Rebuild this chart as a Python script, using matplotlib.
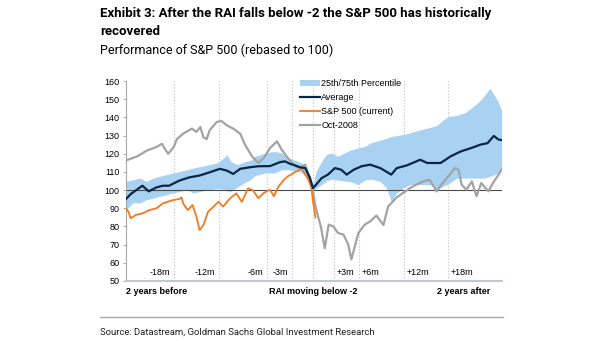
import numpy as np
import matplotlib
matplotlib.use("Agg")
import matplotlib.pyplot as plt
from matplotlib.patches import Patch
from matplotlib.lines import Line2D

# months relative to the RAI moving below -2
band_x = [-23.9, -23.0, -22.1, -21.3, -20.4, -19.6, -18.7, -17.9, -17.0, -16.1,
          -15.3, -14.4, -13.6, -12.3, -11.4, -11.0, -10.5, -9.7, -8.8, -7.9,
          -7.4, -6.1, -4.9, -4.0, -3.2, -1.9, -1.0, -0.4, 0.0, 0.4,
          1.1, 1.7, 2.3, 3.2, 4.0, 4.9, 5.7, 6.6, 7.4, 8.6,
          9.4, 10.0, 10.7, 11.5, 12.4, 13.2, 14.1, 15.0, 15.8, 16.6,
          17.3, 18.4, 19.4, 20.2, 20.9, 21.4, 21.9, 22.6, 23.2, 23.6, 24.1]
band_hi = [104.8, 105.7, 106.6, 104.8, 106.6, 107.6, 108.5, 109.4, 110.3, 111.2,
           112.1, 113.0, 113.6, 114.9, 117.6, 119.5, 115.8, 114.0, 115.5, 116.5,
           118.6, 120.4, 121.3, 120.4, 117.6, 115.8, 114.0, 108.5, 103.0, 110.3,
           115.8, 119.5, 120.4, 118.6, 120.4, 122.2, 123.1, 124.0, 126.0, 127.5,
           128.5, 129.5, 130.0, 130.5, 131.5, 132.5, 133.5, 134.5, 135.5, 138.5,
           140.5, 141.0, 142.5, 145.0, 147.5, 149.5, 152.0, 156.0, 152.0, 149.0, 144.0]
band_lo = [89.2, 93.0, 92.9, 94.7, 95.6, 96.6, 97.5, 98.4, 99.3, 100.2,
           98.4, 99.3, 100.0, 100.8, 100.5, 99.5, 99.3, 101.5, 104.0, 106.0,
           108.0, 109.4, 109.4, 111.2, 111.2, 110.3, 108.5, 103.0, 99.3, 101.1,
           103.0, 105.0, 106.0, 105.5, 105.0, 104.5, 103.0, 105.5, 106.0, 104.8,
           101.1, 93.8, 98.4, 101.1, 103.0, 103.0, 103.0, 103.0, 100.2, 102.0,
           103.5, 106.6, 106.6, 106.6, 106.6, 106.6, 106.6, 107.5, 108.5, 109.4, 112.0]

avg_x = [-23.9, -23.3, -22.4, -21.8, -21.0, -20.0, -19.2, -18.4, -17.1, -15.8,
         -14.5, -13.2, -11.9, -11.0, -10.2, -9.3, -8.0, -7.0, -5.5, -4.2,
         -3.6, -2.9, -2.3, -1.7, -1.0, -0.4, 0.0, 0.4, 1.1, 1.9,
         2.8, 3.6, 4.3, 5.2, 6.2, 7.3, 8.6, 10.0, 10.7, 12.0,
         13.7, 14.6, 16.3, 17.6, 18.9, 20.2, 21.4, 22.3, 23.1, 23.7, 24.1]
avg_v = [95.1, 97.8, 100.6, 102.4, 99.3, 101.5, 102.4, 102.4, 105.2, 107.0,
         108.0, 109.8, 111.7, 110.7, 108.9, 111.7, 112.6, 113.1, 113.2, 115.4,
         115.8, 114.4, 113.6, 112.6, 112.1, 106.6, 101.1, 103.0, 106.6, 108.5,
         112.1, 111.2, 108.5, 111.2, 113.1, 114.0, 112.1, 108.5, 112.1, 113.6,
         116.7, 114.9, 114.9, 118.6, 121.3, 123.1, 125.0, 125.8, 129.8, 127.8, 127.5]

sp_x = [-23.9, -23.6, -23.3, -22.6, -21.8, -20.9, -20.0, -19.2, -17.9, -17.1,
        -16.8, -16.6, -16.0, -15.4, -14.9, -14.5, -14.0, -13.4, -12.7, -12.1,
        -11.5, -10.6, -9.8, -9.1, -8.3, -7.7, -7.0, -6.3, -5.5, -5.0,
        -4.4, -3.7, -3.2, -2.5, -1.9, -1.5, -1.0, -0.6, -0.2, 0.0, 0.3]
sp_v = [90.0, 88.2, 84.5, 86.4, 87.2, 89.0, 90.0, 92.7, 94.5, 95.1,
        96.0, 92.7, 89.0, 91.8, 85.4, 78.0, 80.9, 88.2, 90.9, 93.6,
        90.9, 95.5, 98.2, 93.5, 101.0, 100.0, 95.6, 98.4, 100.2, 96.6,
        102.1, 105.7, 107.6, 109.4, 110.7, 112.1, 108.5, 105.7, 101.1, 93.8, 85.0]

oct_x = [-23.9, -22.5, -21.2, -20.0, -19.3, -18.9, -18.5, -17.8, -17.4, -16.6,
         -15.5, -14.9, -14.4, -14.0, -13.6, -13.2, -12.3, -11.7, -11.0, -10.2,
         -9.3, -8.7, -7.8, -7.0, -6.3, -5.5, -4.6, -4.0, -3.2, -2.3,
         -1.7, -1.0, -0.4, 0.0, 0.26, 0.7, 1.0, 1.5, 2.0, 2.6,
         3.2, 3.9, 4.5, 4.9, 5.4, 5.8, 6.6, 7.3, 8.1, 9.0,
         9.6, 10.7, 11.5, 12.4, 13.2, 14.1, 14.9, 15.8, 16.4, 17.3,
         18.1, 18.6, 19.0, 19.6, 20.3, 20.9, 21.5, 22.4, 23.0, 23.7, 24.1]
oct_v = [116.3, 118.5, 121.8, 123.7, 125.5, 122.4, 120.0, 123.7, 128.0, 131.0,
         133.8, 132.0, 134.7, 129.0, 128.0, 133.0, 137.5, 138.0, 135.6, 133.8,
         131.0, 125.0, 118.6, 114.9, 117.6, 123.1, 126.8, 122.2, 117.6, 113.1,
         112.2, 114.0, 106.6, 99.3, 92.0, 84.6, 80.0, 68.0, 81.0, 80.0,
         76.4, 75.5, 70.0, 61.9, 70.0, 76.4, 81.0, 82.8, 86.0, 80.8,
         91.0, 96.0, 98.4, 101.1, 103.0, 104.8, 105.7, 99.3, 103.0, 107.6,
         112.1, 111.2, 103.0, 100.2, 104.8, 96.6, 103.9, 99.3, 103.9, 108.5, 111.3]

# dotted guides and their labels
guide_pos = [-17.75, -12.0, -5.85, -2.7, 0.0, 2.7, 5.9, 11.6, 17.2]
guide_lab = ['-18m', '-12m', '-6m', '-3m', None, '+3m', '+6m', '+12m', '+18m']

c_band = '#A9D1F2'
c_avg = '#0A2647'
c_sp = '#F47A20'
c_oct = '#A3A3A3'

head = ['Roboto', 'Liberation Sans', 'DejaVu Sans']
plt.rcParams['font.family'] = ['Liberation Sans', 'DejaVu Sans']

fig = plt.figure(figsize=(6.05, 3.41), dpi=100)
ax = fig.add_axes([126 / 605, 1 - 281 / 341, 376 / 605, 200 / 341])

ax.fill_between(band_x, band_lo, band_hi, color=c_band, lw=0, zorder=1)
for g in guide_pos:
    ax.axvline(g, color='#C8C8C8', lw=0.8, ls=(0, (1.2, 1.6)), zorder=0.5)
ax.axhline(100, color='#4A4A4A', lw=0.8, zorder=2)
ax.plot(oct_x, oct_v, color=c_oct, lw=1.6, zorder=3)
ax.plot(sp_x, sp_v, color=c_sp, lw=1.3, zorder=4)
ax.plot(avg_x, avg_v, color=c_avg, lw=1.6, zorder=5)

ax.set_xlim(-23.9, 24.15)
ax.set_ylim(50, 160)
ax.set_yticks(np.arange(50, 161, 10))
ax.set_xticks([])
ax.tick_params(axis='y', labelsize=6.5, length=2.5, width=0.6, color='#A0A0A0', pad=2)
for s in ['top', 'right']:
    ax.spines[s].set_visible(False)
ax.spines['left'].set_color('#A8A8A8')
ax.spines['left'].set_linewidth(0.8)
ax.spines['bottom'].set_color('#B8C3D3')
ax.spines['bottom'].set_linewidth(1.3)

for g, lab in zip(guide_pos, guide_lab):
    if lab is None:
        continue
    if g < 0:
        ax.annotate(lab, (g, 54.5), xytext=(-3, 0), textcoords='offset points',
                    ha='right', va='center', fontsize=6.5)
    else:
        ax.annotate(lab, (g, 54.5), xytext=(2, 0), textcoords='offset points',
                    ha='left', va='center', fontsize=6.5)

# bold labels under the axis
y_lab = 50 - 0.05 * 110
ax.text(-23.9, y_lab, '2 years before', ha='left', va='center', fontsize=6.5,
        fontweight='bold', clip_on=False)
ax.text(0.0, y_lab, 'RAI moving below -2', ha='center', va='center', fontsize=6.5,
        fontweight='bold', clip_on=False)
ax.text(19.2, y_lab, '2 years after', ha='center', va='center', fontsize=6.5,
        fontweight='bold', clip_on=False)

handles = [Patch(facecolor=c_band, edgecolor='none'),
           Line2D([], [], color=c_avg, lw=1.6),
           Line2D([], [], color=c_sp, lw=1.3),
           Line2D([], [], color=c_oct, lw=1.6)]
labels = ['25th/75th Percentile', 'Average', 'S&P 500 (current)', 'Oct-2008']
ax.legend(handles, labels, loc='upper left', bbox_to_anchor=(0.462, 1.01), frameon=False,
          fontsize=6.5, handlelength=2.3, handleheight=0.6, handletextpad=0.1,
          labelspacing=0.55, borderpad=0, borderaxespad=0)

fig.text(100 / 605, 1 - 13.3 / 341,
         'Exhibit 3: After the RAI falls below -2 the S&P 500 has historically',
         family=head, fontweight='bold', fontsize=9.5, va='center')
fig.text(100 / 605, 1 - 31.7 / 341, 'recovered', family=head, fontweight='bold',
         fontsize=9.5, va='center')
fig.text(100 / 605, 1 - 50 / 341, 'Performance of S&P 500 (rebased to 100)', family=head,
         fontsize=9, va='center')

fig.add_artist(Line2D([100 / 605, 503 / 605], [1 - 317.3 / 341] * 2, color='#A8A8A8', lw=1.0))
fig.text(100 / 605, 1 - 332 / 341, 'Source: Datastream, Goldman Sachs Global Investment Research',
         family=head, fontsize=6.8, va='center', color='#222222')

fig.savefig('out.png', dpi=100)
